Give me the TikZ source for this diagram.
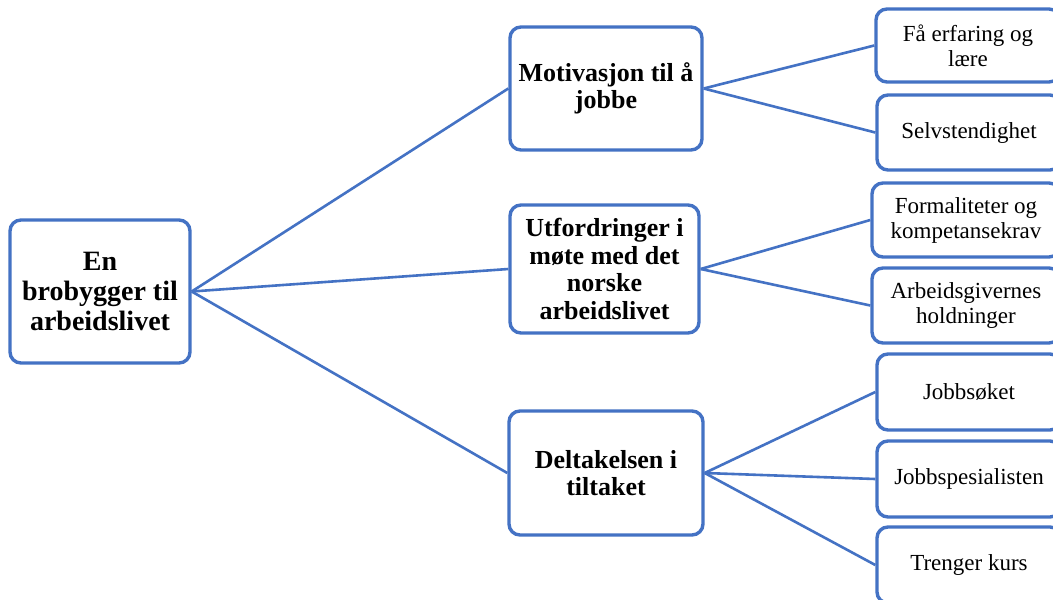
\documentclass[tikz,border=0pt]{standalone}
\usepackage{fontspec}
\setmainfont{Liberation Serif}
\definecolor{myblue}{HTML}{4472C4}
\begin{document}
\begin{tikzpicture}[x=1pt,y=-1pt,
  box/.style={draw=myblue, line width=3.4pt, rounded corners=11pt, fill=white, align=center, inner sep=0pt},
  rootbox/.style={box, font=\fontsize{28}{30}\selectfont\bfseries},
  midbox/.style={box, font=\fontsize{26}{27.5}\selectfont\bfseries},
  leafbox/.style={box, font=\fontsize{23}{25}\selectfont},
  link/.style={draw=myblue, line width=2.6pt}]
\useasboundingbox (0,0) rectangle (1053,600);
\fill[white] (0,0) rectangle (1053,600);
% nodes
\node[rootbox, minimum width=180pt, minimum height=143pt] (root) at (100,291.5) {En\\brobygger til\\arbeidslivet};
\node[midbox, minimum width=192pt, minimum height=123pt] (m1) at (606,88.5) {Motivasjon til å\\jobbe};
\node[midbox, minimum width=189pt, minimum height=128pt] (m2) at (604.5,269) {Utfordringer i\\møte med det\\norske\\arbeidslivet};
\node[midbox, minimum width=194pt, minimum height=124pt] (m3) at (606,473) {Deltakelsen i\\tiltaket};
\node[leafbox, minimum width=184pt, minimum height=73pt] (r1) at (968,45.5) {Få erfaring og\\lære};
\node[leafbox, minimum width=184pt, minimum height=75pt] (r2) at (969,132.5) {Selvstendighet};
\node[leafbox, minimum width=188pt, minimum height=74pt] (r3) at (966,220) {Formaliteter og\\kompetansekrav};
\node[leafbox, minimum width=188pt, minimum height=75pt] (r4) at (966,305.5) {Arbeidsgivernes\\holdninger};
\node[leafbox, minimum width=184pt, minimum height=76pt] (r5) at (969,392) {Jobbsøket};
\node[leafbox, minimum width=184pt, minimum height=76pt] (r6) at (969,479) {Jobbspesialisten};
\node[leafbox, minimum width=184pt, minimum height=76pt] (r7) at (969,565) {Trenger kurs};
% connectors
\draw[link] (root.east) -- (m1.west);
\draw[link] (root.east) -- (m2.west);
\draw[link] (root.east) -- (m3.west);
\draw[link] (m1.east) -- (r1.west);
\draw[link] (m1.east) -- (r2.west);
\draw[link] (m2.east) -- (r3.west);
\draw[link] (m2.east) -- (r4.west);
\draw[link] (m3.east) -- (r5.west);
\draw[link] (m3.east) -- (r6.west);
\draw[link] (m3.east) -- (r7.west);
\end{tikzpicture}
\end{document}
